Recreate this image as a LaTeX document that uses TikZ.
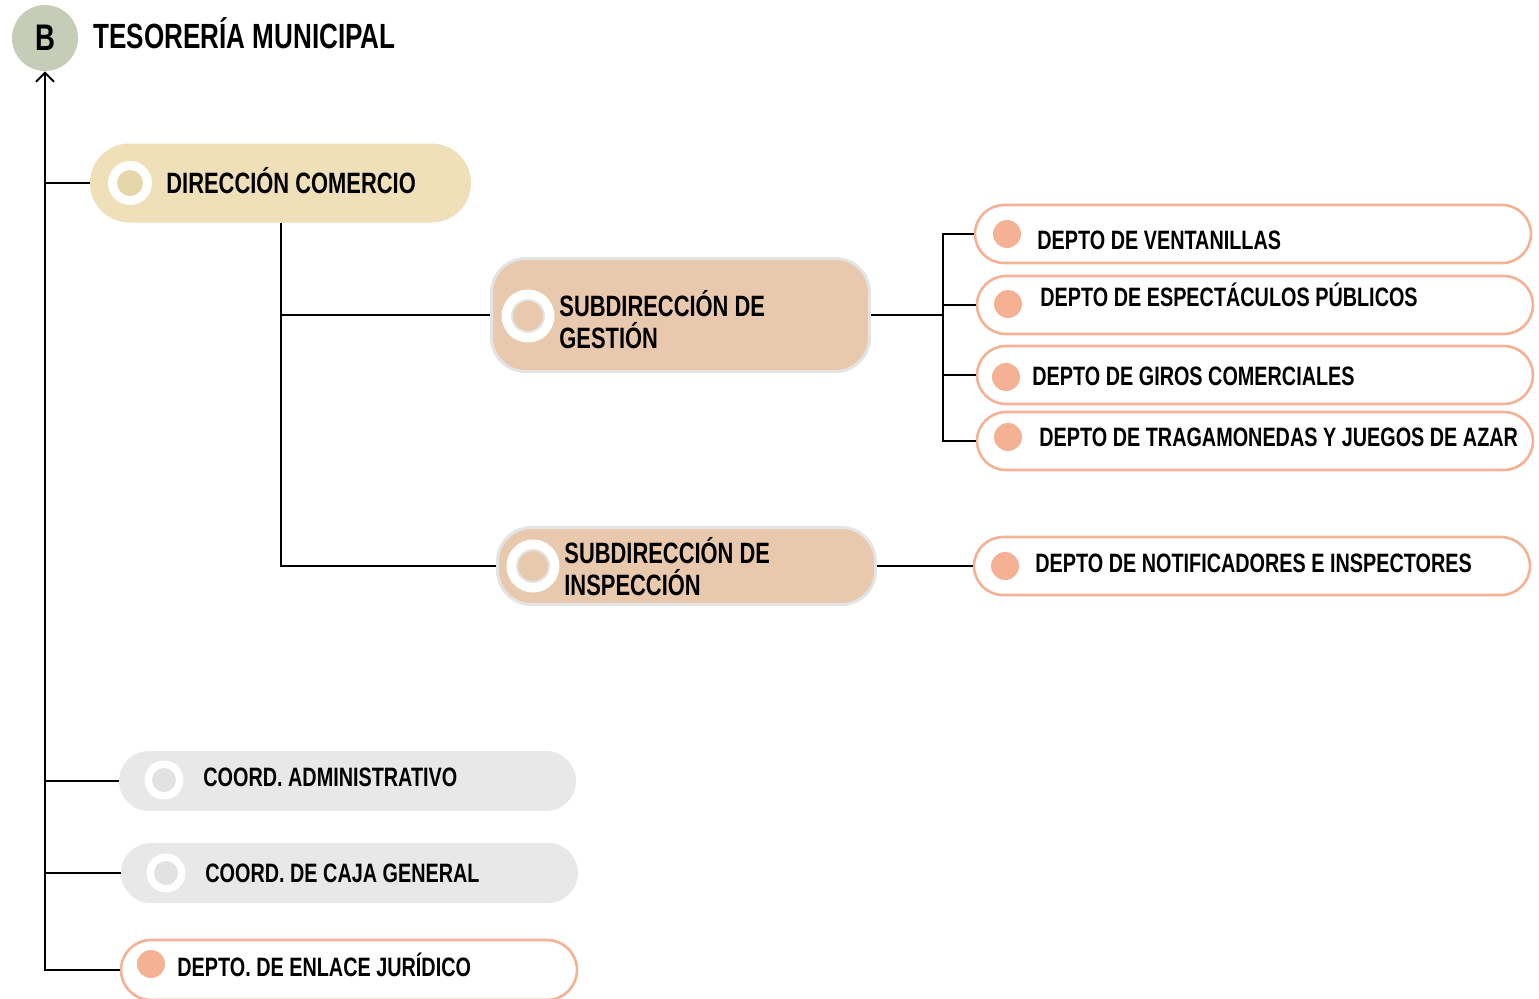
\documentclass[tikz,border=0pt]{standalone}
\usepackage{fontspec}
\setmainfont[FakeStretch=0.745]{Liberation Sans}
\usetikzlibrary{arrows.meta}

\definecolor{headgreen}{HTML}{C5CCB8}
\definecolor{dirbeige}{HTML}{EFE0B9}
\definecolor{dircore}{HTML}{E7D6A9}
\definecolor{subtan}{HTML}{E8C9AD}
\definecolor{subedge}{HTML}{E4E4E4}
\definecolor{salmon}{HTML}{F5B193}
\definecolor{coordgray}{HTML}{E8E8E8}
\definecolor{coordcore}{HTML}{E2E2E2}

\begin{document}
\begin{tikzpicture}[
    x=0.5pt, y=-0.5pt,
    dirpill/.style={rectangle, fill=dirbeige, minimum width=190.5pt, minimum height=39.5pt, rounded corners=19.7pt},
    subpill/.style={rectangle, fill=subtan, draw=subedge, line width=1.5pt, minimum width=189pt, rounded corners=17pt},
    deptopill/.style={rectangle, draw=salmon, line width=1.3pt, fill=white, minimum width=278pt, minimum height=29pt, rounded corners=14.5pt},
    coordpill/.style={rectangle, fill=coordgray, minimum width=228.5pt, minimum height=30pt, rounded corners=15pt},
    ring/.style n args={3}{circle, fill=white, inner sep=0pt, minimum size=#1,
        path picture={\path[#3] (path picture bounding box.center) circle (#2);}},
    dot/.style={circle, fill=salmon, inner sep=0pt, minimum size=14pt},
    lbl/.style={anchor=base west, inner sep=0pt, font=\bfseries\fontsize{13.3}{16}\selectfont, align=left},
    sublbl/.style={lbl, font=\bfseries\fontsize{14.7}{16}\selectfont},
    conn/.style={draw=black, line width=1pt},
    arrow/.style={conn, -{Straight Barb[length=4.5pt, width=9pt]}}
]
\useasboundingbox (0,0) rectangle (1539,998);

% Header
\node[circle, fill=headgreen, minimum size=33pt, inner sep=0pt, font=\bfseries\fontsize{18.5}{20}\selectfont] (head) at (45,38) {B};
\node[lbl, font=\bfseries\fontsize{17.5}{18}\selectfont] (title) at (93,48) {TESORERÍA MUNICIPAL};

% Direccion
\node[dirpill] (dir) at (280.5,183) {};
\node[ring={22pt}{6.5pt}{fill=dircore}] (dirring) at (130,183) {};
\node[sublbl] (dirtxt) at (166,193) {DIRECCIÓN COMERCIO};

% Subdirecciones
\node[subpill, minimum height=56.5pt] (gest) at (680.5,315) {};
\node[ring={26.5pt}{8pt}{fill=subtan, draw=subedge, line width=1pt}] (gestring) at (528,316) {};
\node[sublbl] (gesttxt) at (559,348) {SUBDIRECCIÓN DE\\GESTIÓN};

\node[subpill, minimum height=38.5pt] (insp) at (686.5,566) {};
\node[ring={26.5pt}{8pt}{fill=subtan, draw=subedge, line width=1pt}] (inspring) at (533,566) {};
\node[sublbl] (insptxt) at (564,595) {SUBDIRECCIÓN DE\\INSPECCIÓN};

% Departamentos de gestion
\node[deptopill] (vent) at (1253,234) {};
\node[dot] (ventdot) at (1007,234) {};
\node[lbl] (venttxt) at (1037,249) {DEPTO DE VENTANILLAS};

\node[deptopill] (espec) at (1255,305) {};
\node[dot] (especdot) at (1008,304) {};
\node[lbl] (espectxt) at (1040,306) {DEPTO DE ESPECTÁCULOS PÚBLICOS};

\node[deptopill] (giros) at (1255,375) {};
\node[dot] (girosdot) at (1006,377) {};
\node[lbl] (girostxt) at (1032,385) {DEPTO DE GIROS COMERCIALES};

\node[deptopill] (traga) at (1255,441) {};
\node[dot] (tragadot) at (1008,437) {};
\node[lbl] (tragatxt) at (1039,446) {DEPTO DE TRAGAMONEDAS Y JUEGOS DE AZAR};

% Departamento de inspeccion
\node[deptopill] (notif) at (1252,566) {};
\node[dot] (notifdot) at (1005,566) {};
\node[lbl] (notiftxt) at (1035,572) {DEPTO DE NOTIFICADORES E INSPECTORES};

% Coordinaciones
\node[coordpill] (adm) at (347.5,781) {};
\node[ring={19.5pt}{6pt}{fill=coordcore}] (admring) at (164,780) {};
\node[lbl] (admtxt) at (203,786) {COORD. ADMINISTRATIVO};

\node[coordpill] (caja) at (349.5,873) {};
\node[ring={19.5pt}{6pt}{fill=coordcore}] (cajaring) at (166,873) {};
\node[lbl] (cajatxt) at (205,882) {COORD. DE CAJA GENERAL};

\node[deptopill, minimum width=228pt, minimum height=30pt, rounded corners=15pt] (enlace) at (349,970) {};
\node[dot] (enlacedot) at (151,964) {};
\node[lbl] (enlacetxt) at (177,976) {DEPTO. DE ENLACE JURÍDICO};

% Connectors
\draw[arrow] (enlace.west) -| (head.south);
\draw[conn] (dir.west) -- (dir.west -| head.south);
\draw[conn] (adm.west) -- (adm.west -| head.south);
\draw[conn] (caja.west) -- (caja.west -| head.south);

\draw[conn] (dir.south) |- (gest.west);
\draw[conn] (dir.south) |- (insp.west);

\coordinate (gjoin) at (943,315);
\draw[conn] (gest.east) -- (gjoin);
\foreach \d in {vent, espec, giros, traga}
    \draw[conn] (gjoin) |- (\d.west);

\draw[conn] (insp.east) -- (notif.west);

\end{tikzpicture}
\end{document}
